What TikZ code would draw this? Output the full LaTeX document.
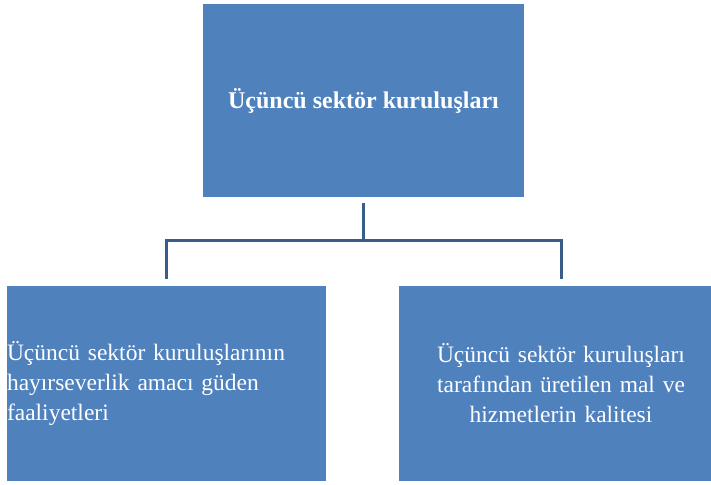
\documentclass[tikz,border=0pt]{standalone}
\usepackage{fontspec}
\setmainfont{Liberation Serif}
\usetikzlibrary{calc}
\definecolor{box-blue}{RGB}{79, 129, 189}
\definecolor{line-blue}{RGB}{56, 93, 138}

\begin{document}
\begin{tikzpicture}[x = 1pt, y = -1pt,
    box/.style = {fill = box-blue, text = white, inner sep = 0pt, font = \fontsize{23.5}{30}\selectfont},
    conn/.style = {line-blue, line width = 3pt}]
          \useasboundingbox (0, 0) rectangle (711, 484);

          \node[box, minimum width = 321pt, minimum height = 193pt, font = \fontsize{24}{30}\selectfont\bfseries] (top) at (363.5, 100.5) {Üçüncü sektör kuruluşları};
          \node[box, text width = 319pt, minimum height = 195pt, align = left] (left) at (166.5, 383.5)
            {Üçüncü sektör kuruluşlarının\\hayırseverlik amacı güden\\faaliyetleri};
          \node[box, text width = 324pt, minimum height = 195pt, align = center] (right) at (561, 383.5)
            {Üçüncü sektör kuruluşları\\tarafından üretilen mal ve\\hizmetlerin kalitesi};

          \coordinate (split) at (363.5, 240);
          \draw[conn, shorten <= 6pt] (top.south) -- (split);
          \draw[conn, shorten >= 7pt] (split) -| (left.north);
          \draw[conn, shorten >= 7pt] (split) -| (right.north);

        \end{tikzpicture}
\end{document}
